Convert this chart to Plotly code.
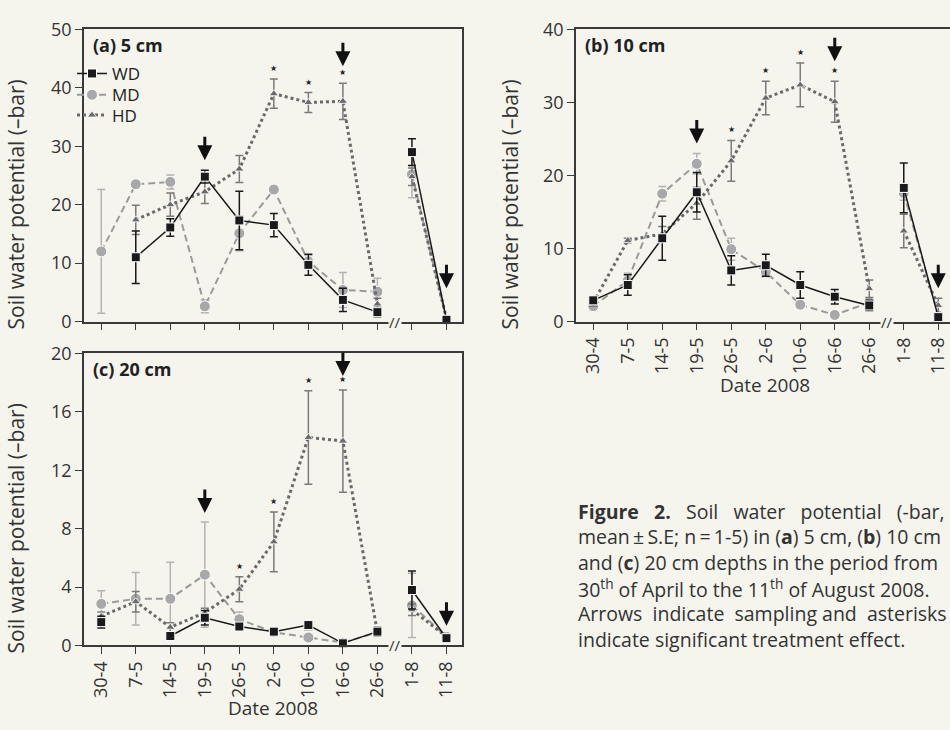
import plotly.graph_objects as go

# sampling dates (the axis is broken between 26-6 and 1-8)
dates = ["30-4", "7-5", "14-5", "19-5", "26-5", "2-6", "10-6", "16-6", "26-6", "1-8", "11-8"]

# (a) 5 cm, mean and S.E. (-bar)
wd_5 = [None, 11.0, 16.1, 24.8, 17.3, 16.5, 9.7, 3.7, 1.6, 29.0, 0.3]
wd_5_se = [None, 4.5, 1.5, 1.1, 5.0, 2.0, 1.8, 2.0, 0.8, 2.3, 0.3]
md_5 = [12.0, 23.5, 23.9, 2.6, 15.1, 22.6, 10.3, 5.4, 5.1, 25.2, 0.3]
md_5_se = [10.6, 0.0, 1.2, 1.1, 3.0, 0.0, 1.0, 3.0, 2.3, 4.0, 0.3]
hd_5 = [None, 17.4, 20.0, 22.2, 26.1, 39.0, 37.5, 37.7, 3.0, 24.8, 0.5]
hd_5_se = [None, 2.5, 2.0, 2.0, 2.3, 2.5, 1.7, 3.1, 1.0, 1.5, 0.4]

# (b) 10 cm
wd_10 = [2.9, 5.0, 11.4, 17.7, 7.0, 7.7, 5.0, 3.4, 2.2, 18.3, 0.6]
wd_10_se = [0.5, 1.4, 3.0, 2.7, 2.0, 1.5, 1.8, 1.0, 0.7, 3.4, 0.4]
md_10 = [2.1, 5.6, 17.5, 21.6, 9.9, 6.8, 2.3, 0.9, 2.6, 17.6, 0.8]
md_10_se = [0.6, 1.0, 1.0, 1.4, 1.5, 0.7, 0.3, 0.2, 0.6, 1.0, 0.3]
hd_10 = [2.6, 11.1, 12.0, 16.2, 22.0, 30.6, 32.4, 30.1, 4.5, 12.4, 2.2]
hd_10_se = [0.5, 0.3, 1.0, 2.2, 2.8, 2.3, 3.0, 2.8, 1.2, 2.3, 1.0]

# (c) 20 cm
wd_20 = [1.6, None, 0.65, 1.9, 1.3, 0.95, 1.4, 0.15, 0.95, 3.8, 0.5]
wd_20_se = [0.4, None, 0.1, 0.5, 0.2, 0.2, 0.3, 0.1, 0.3, 1.3, 0.2]
md_20 = [2.85, 3.2, 3.2, 4.85, 1.8, 0.9, 0.55, 0.2, 0.9, 2.75, 0.6]
md_20_se = [0.9, 1.8, 2.5, 3.6, 0.5, 0.2, 0.2, 0.1, 0.2, 2.2, 0.2]
hd_20 = [2.0, 3.0, 1.25, 2.25, 3.85, 7.1, 14.25, 14.0, 0.9, 2.45, 0.6]
hd_20_se = [0.3, 0.7, 0.3, 0.3, 0.85, 2.05, 3.2, 3.5, 0.2, 0.4, 0.2]

# significant treatment effect (asterisks) and sampling dates (arrows)
sig_5 = ["2-6", "10-6", "16-6"]
sig_10 = ["26-5", "2-6", "10-6", "16-6"]
sig_20 = ["26-5", "2-6", "10-6", "16-6"]
sampling = ["19-5", "16-6", "11-8"]

BG = "#f5f5ee"
FONT = "Open Sans"
INK = "#333333"
W, H = 950, 730


def px(x):
    return x / W


def py(y):
    return 1 - y / H


styles = {
    "WD": dict(line=dict(color="#1a1a1a", width=1.5),
               marker=dict(symbol="square", size=9, color="#1a1a1a", line=dict(color="white", width=1)),
               err="#1a1a1a", legend="legend"),
    "MD": dict(line=dict(color="#9a9a9a", width=2, dash="7px,4px"),
               marker=dict(symbol="circle", size=11, color="#a8a8a8", line=dict(color="white", width=1)),
               err="#b3b3b3", legend="legend2"),
    "HD": dict(line=dict(color="#6a6a6a", width=3, dash="3px,3px"),
               marker=dict(symbol="triangle-up", size=8, color="#6a6a6a", line=dict(color="white", width=0.8)),
               err="#7a7a7a", legend="legend3"),
}


def with_break(vals):
    # no line across the axis break between 26-6 and 1-8
    return vals[:9] + [None] + vals[9:]


xs = with_break(list(range(len(dates))))

# arrow lift above the highest error bar, px, per sampling date
panels = [
    ("x", "y", {"WD": (wd_5, wd_5_se), "MD": (md_5, md_5_se), "HD": (hd_5, hd_5_se)}, sig_5, True, [10, 17, 28]),
    ("x2", "y2", {"WD": (wd_10, wd_10_se), "MD": (md_10, md_10_se), "HD": (hd_10, hd_10_se)}, sig_10, False, [10, 20, 10]),
    ("x3", "y3", {"WD": (wd_20, wd_20_se), "MD": (md_20, md_20_se), "HD": (hd_20, hd_20_se)}, sig_20, False, [9, 14, 8]),
]

fig = go.Figure()
annotations = []

for xa, ya, series, sig, legend, lifts in panels:
    for name in ["MD", "HD", "WD"]:
        vals, se = series[name]
        st = styles[name]
        fig.add_trace(go.Scatter(
            x=xs, y=with_break(vals), xaxis=xa, yaxis=ya,
            mode="lines+markers", name=name, showlegend=legend, legend=st["legend"],
            line=st["line"], marker=st["marker"],
            error_y=dict(type="data", array=with_break(se), color=st["err"], thickness=1.5, width=4),
            connectgaps=False, cliponaxis=False,
        ))

    # highest error-bar top per date, used to place asterisks and arrows
    tops = []
    for i in range(len(dates)):
        t = 0
        for vals, se in series.values():
            if vals[i] is not None:
                t = max(t, vals[i] + (se[i] or 0))
        tops.append(t)

    for d in sig:
        i = dates.index(d)
        annotations.append(dict(x=i, y=tops[i], xref=xa, yref=ya, text="★", showarrow=False,
                                yanchor="bottom", yshift=4, font=dict(size=8, color="#222")))
    for d, lift in zip(sampling, lifts):
        i = dates.index(d)
        annotations.append(dict(x=i, y=tops[i], xref=xa, yref=ya, text="", showarrow=True,
                                ax=0, ay=-25, yshift=lift,
                                arrowhead=2, arrowsize=1, arrowwidth=3, arrowcolor="#111"))
    # axis break mark
    annotations.append(dict(x=8.5, y=0, xref=xa, yref=ya, text="//", showarrow=False,
                            font=dict(size=15, color=INK, family=FONT), bgcolor=BG, borderpad=0))


axis_common = dict(showline=True, linecolor="#3a3a3a", linewidth=1.5, showgrid=False, zeroline=False,
                   ticks="outside", ticklen=7, tickcolor="#3a3a3a", tickwidth=1.2,
                   tickfont=dict(family=FONT, size=18, color=INK))

xcommon = dict(axis_common, tickvals=list(range(len(dates))), ticktext=dates, tickangle=-90)

fig.update_layout(
    xaxis=dict(xcommon, domain=[px(84), px(462)], range=[-0.5, 10.45], anchor="y", mirror=True,
               showticklabels=False),
    yaxis=dict(axis_common, domain=[py(319), py(17)], range=[0, 50], dtick=10, anchor="x", mirror=True),
    xaxis2=dict(xcommon, domain=[px(576), 1], range=[-0.5, 10.34], anchor="y2", mirror=True),
    yaxis2=dict(axis_common, domain=[py(319), py(17)], range=[0, 40], dtick=10, anchor="x2"),
    xaxis3=dict(xcommon, domain=[px(84), px(462)], range=[-0.5, 10.45], anchor="y3", mirror=True),
    yaxis3=dict(axis_common, domain=[py(654), py(352)], range=[0, 20], dtick=4, anchor="x3", mirror=True),
)

# panel labels
for txt, x, y in [("(a) 5 cm", 91, 33), ("(b) 10 cm", 583, 33), ("(c) 20 cm", 91, 368)]:
    annotations.append(dict(x=px(x), y=py(y), xref="paper", yref="paper", text="<b>" + txt + "</b>",
                            showarrow=False, xanchor="left", yanchor="middle",
                            font=dict(family=FONT, size=18, color="#222")))

# axis titles
for x, y in [(16, 198), (510, 198), (16, 533)]:
    annotations.append(dict(x=px(x), y=py(y), xref="paper", yref="paper", text="Soil water potential (–bar)",
                            textangle=-90, showarrow=False, xanchor="center", yanchor="middle",
                            font=dict(family=FONT, size=21, color=INK)))
for x, y in [(765, 385), (273, 719)]:
    annotations.append(dict(x=px(x), y=py(y), xref="paper", yref="paper", text="Date 2008",
                            showarrow=False, xanchor="center", yanchor="middle",
                            font=dict(family=FONT, size=19, color=INK)))

# figure caption (justified in the original)
caption = [
    "<b>Figure   2.</b>   Soil   water   potential   (-bar,",
    "mean\u2009±\u2009S.E; n\u2009=\u20091-5) in (<b>a</b>) 5 cm, (<b>b</b>) 10 cm",
    "and (<b>c</b>) 20 cm depths in the period from",
    "30<sup>th</sup> of April to the 11<sup>th</sup> of August 2008.",
    "Arrows  indicate  sampling and  asterisks",
    "indicate significant treatment effect.",
]
for k, line in enumerate(caption):
    annotations.append(dict(x=px(576), y=py(515 + 26.6 * k), xref="paper", yref="paper", text=line,
                            showarrow=False, xanchor="left", yanchor="middle",
                            font=dict(family=FONT, size=19.5, color=INK)))

leg = dict(xanchor="left", yanchor="middle", bgcolor="rgba(0,0,0,0)",
           font=dict(family=FONT, size=17, color="#222"), itemwidth=30)

fig.update_layout(
    width=W, height=H,
    margin=dict(l=0, r=0, t=0, b=0),
    paper_bgcolor=BG, plot_bgcolor=BG,
    font=dict(family=FONT, size=18, color=INK),
    showlegend=True,
    legend=dict(leg, x=px(72), y=py(63)),
    legend2=dict(leg, x=px(72), y=py(85)),
    legend3=dict(leg, x=px(72), y=py(106)),
    annotations=annotations,
)

fig.write_html("out.html", config={"displayModeBar": False},
               post_script="document.body.style.margin='0';")
